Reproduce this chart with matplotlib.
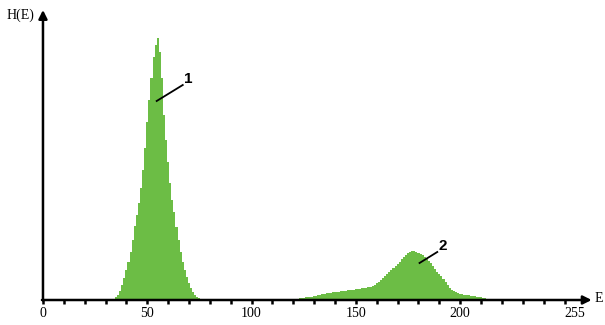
import matplotlib
matplotlib.use("Agg")
import matplotlib.pyplot as plt
import numpy as np

# ---- data (heights in arbitrary units) ----
peak1_E = list(range(34, 77))
peak1_H = [1, 3, 5, 9, 15, 22, 30, 38, 48, 60, 74, 85, 97, 112, 130, 152, 178, 200,
           222, 243, 255, 262, 248, 222, 185, 160, 138, 117, 100, 88, 73, 60, 48, 38,
           30, 23, 17, 12, 8, 5, 3, 2, 1]

peak2_E = list(range(122, 215))
peak2_H = [1, 2, 2, 2, 3, 3, 3, 3, 4, 4, 5, 5, 6, 6, 7, 7, 7, 8,
           8, 8, 8, 9, 9, 9, 10, 10, 10, 10, 11, 11, 11, 12, 12, 12, 13, 13,
           14, 15, 17, 18, 20, 22, 24, 26, 28, 30, 32, 34, 36, 38, 41, 43, 45, 47,
           48, 49, 49, 48, 47, 46, 45, 43, 41, 39, 37, 34, 31, 28, 26, 24, 21, 18,
           15, 12, 10, 9, 8, 7, 6, 6, 5, 5, 5, 4, 4, 4, 3, 3, 3, 2, 2, 1, 0]

tick_positions = list(range(0, 251, 10))
tick_labels_pos = [0, 50, 100, 150, 200, 255]
tick_labels = ["0", "50", "100", "150", "200", "255"]

green = "#6cbd45"
serif = ["Liberation Serif", "DejaVu Serif"]

fig = plt.figure(figsize=(6.05, 3.25), dpi=100)
ax = fig.add_axes([0, 0, 1, 1])
ax.set_xlim(-20.6, 269.4)
ax.set_ylim(-25, 300)
ax.axis("off")

for E, H in ((peak1_E, peak1_H), (peak2_E, peak2_H)):
    ax.fill_between(E, H, step="mid", color=green, linewidth=0)

# axes with arrows
ax.annotate("", xy=(263, 0), xytext=(-0.5, 0),
            arrowprops=dict(arrowstyle="-|>,head_length=0.5,head_width=0.25",
                            color="black", lw=1.8, shrinkA=0, shrinkB=0))
ax.annotate("", xy=(0, 290), xytext=(0, -0.5),
            arrowprops=dict(arrowstyle="-|>,head_length=0.5,head_width=0.25",
                            color="black", lw=1.8, shrinkA=0, shrinkB=0))

# ticks
for t in tick_positions:
    ax.plot([t, t], [0, -3.5], color="black", lw=1.8, solid_capstyle="butt")

for p, lab in zip(tick_labels_pos, tick_labels):
    ax.text(p, -7, lab, ha="center", va="top", fontsize=10, family=serif)

ax.text(-17.5, 285, "H(E)", ha="left", va="center", fontsize=10, family=serif)
ax.text(264.5, 1, "E", ha="left", va="center", fontsize=10, family=serif)

# peak labels with leader lines
ax.plot([54.5, 67], [199, 215], color="black", lw=1.3)
ax.text(67.5, 214, "1", ha="left", va="bottom", fontsize=11, fontweight="bold",
        family=["Liberation Sans", "DejaVu Sans"])
ax.plot([180.5, 189], [37, 48], color="black", lw=1.3)
ax.text(189.5, 47, "2", ha="left", va="bottom", fontsize=11, fontweight="bold",
        family=["Liberation Sans", "DejaVu Sans"])

fig.savefig("out.png", dpi=100)
